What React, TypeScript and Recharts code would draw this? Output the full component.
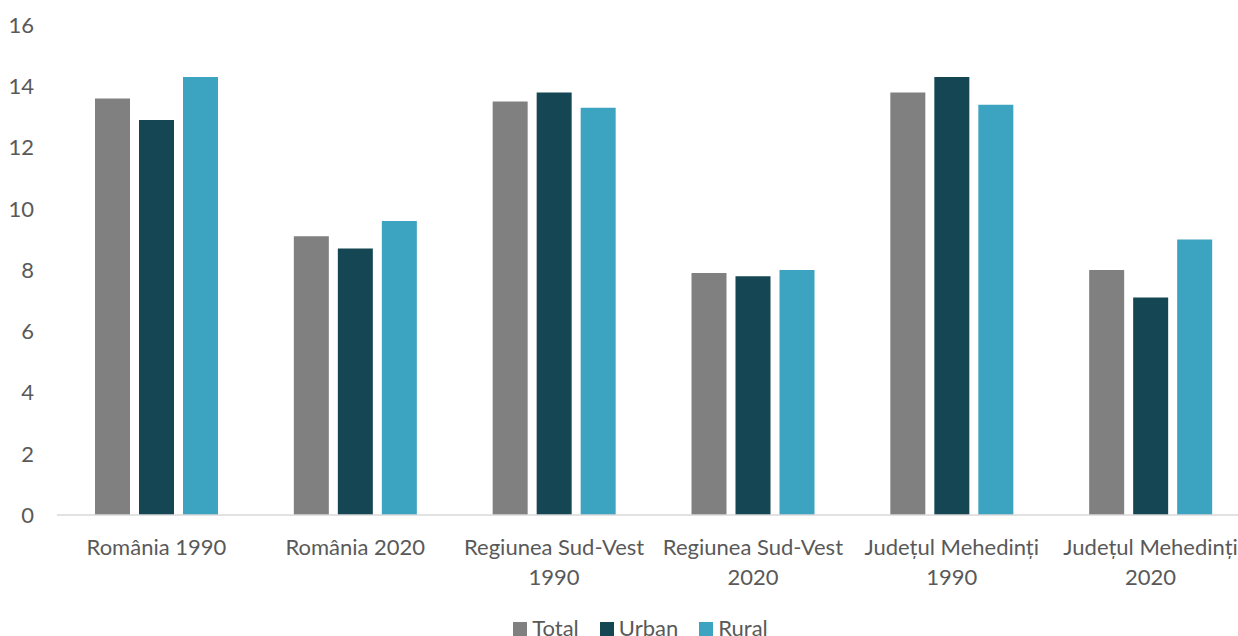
import { Bar, BarChart, Legend, XAxis, YAxis } from "recharts";

const categories = [
  "România 1990",
  "România 2020",
  "Regiunea Sud-Vest\n1990",
  "Regiunea Sud-Vest\n2020",
  "Județul Mehedinți\n1990",
  "Județul Mehedinți\n2020",
];
const seriesNames = ["Total", "Urban", "Rural"];
const total = [13.6, 9.1, 13.5, 7.9, 13.8, 8.0];
const urban = [12.9, 8.7, 13.8, 7.8, 14.3, 7.1];
const rural = [14.3, 9.6, 13.3, 8.0, 13.4, 9.0];
const yTicks = [0, 2, 4, 6, 8, 10, 12, 14, 16];

const data = categories.map((name, i) => ({
  name,
  Total: total[i],
  Urban: urban[i],
  Rural: rural[i],
}));

const FONT = "Lato, 'Open Sans', sans-serif";
const TEXT = "#595959";

const CategoryTick = (props: any) => {
  const { x, y, payload } = props;
  const lines = String(payload.value).split("\n");
  return (
    <g transform={`translate(${x},${y})`}>
      {lines.map((line, i) => (
        <text
          key={i}
          x={0}
          y={32 + i * 30}
          textAnchor="middle"
          fill={TEXT}
          fontSize={22}
          fontFamily={FONT}
        >
          {line}
        </text>
      ))}
    </g>
  );
};

const LegendContent = (props: any) => {
  // keep series order (recharts sorts legend items by name)
  const items = [...props.payload].sort(
    (a: any, b: any) => seriesNames.indexOf(a.value) - seriesNames.indexOf(b.value)
  );
  return (
    <div style={{ display: "flex", justifyContent: "center", fontFamily: FONT, fontSize: 22, color: TEXT }}>
      {items.map((item: any) => (
        <div key={item.value} style={{ display: "flex", alignItems: "baseline", marginRight: 21 }}>
          <span style={{ width: 14, height: 14, background: item.color, display: "inline-block", marginRight: 5 }} />
          <span>{item.value}</span>
        </div>
      ))}
    </div>
  );
};

const App = () => {
  return (
    <div style={{ position: "fixed", left: 0, top: 0, width: 1238, height: 636, overflow: "hidden", background: "#fff" }}>
      <BarChart
        width={1262}
        height={636}
        data={data}
        margin={{ top: 25, right: 12, left: 0, bottom: 0 }}
        barSize={35}
        barGap={9}
      >
        <XAxis
          dataKey="name"
          interval={0}
          axisLine={{ stroke: "#d9d9d9", strokeWidth: 1.5 }}
          tickLine={false}
          height={91}
          tick={<CategoryTick />}
        />
        <YAxis
          domain={[0, 16]}
          ticks={yTicks}
          width={57}
          axisLine={false}
          tickLine={false}
          tickMargin={17}
          tick={{ fill: TEXT, fontSize: 22, fontFamily: FONT }}
        />
        <Legend
          verticalAlign="bottom"
          height={30}
          wrapperStyle={{ left: 0, width: 1302, top: 614, bottom: "auto" }}
          content={<LegendContent />}
        />
        <Bar dataKey="Total" fill="#808080" isAnimationActive={false} />
        <Bar dataKey="Urban" fill="#154653" isAnimationActive={false} />
        <Bar dataKey="Rural" fill="#3ca3c0" isAnimationActive={false} />
      </BarChart>
    </div>
  );
};

export default App;
